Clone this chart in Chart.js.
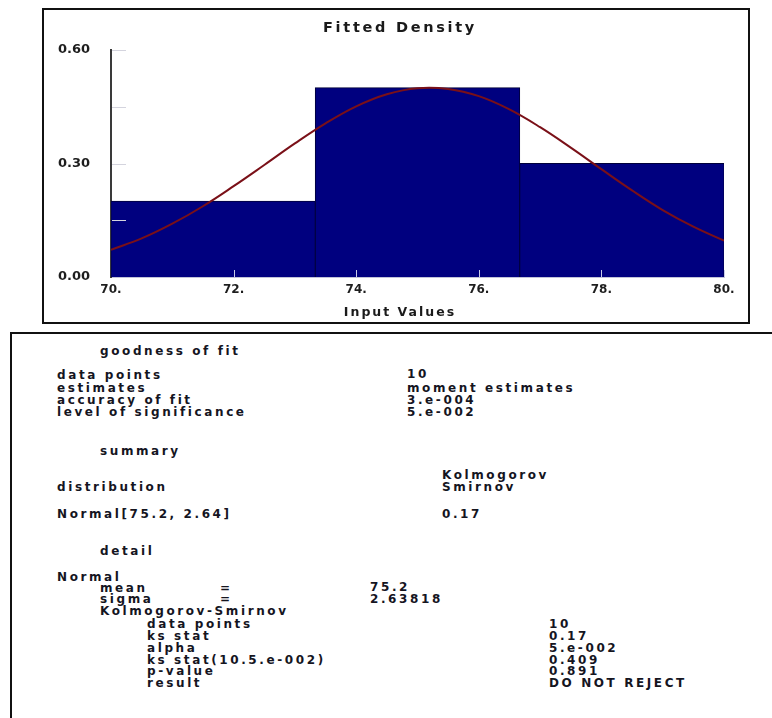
<!DOCTYPE html>
<html>
<head>
<meta charset="utf-8">
<script src="https://cdn.jsdelivr.net/npm/chart.js@4"></script>
<style>
  html, body { margin: 0; padding: 0; background: #fff; }
  body { width: 772px; height: 718px; position: relative; overflow: hidden; font-family: 'DejaVu Sans', sans-serif; }
  #chartBox { position: absolute; left: 42px; top: 8px; width: 708px; height: 316px; box-sizing: border-box; border: 2px solid #111; }
  #chartBox canvas { position: absolute; left: 0; top: 0; }
  .ctitle { position: absolute; left: 8px; right: 0; text-align: center; font-weight: bold; color: #1a1a1a; white-space: nowrap; }
  #panel { position: absolute; left: 10px; top: 332px; width: 770px; height: 400px; border-left: 2px solid #111; border-top: 2px solid #111; }
  .t { position: absolute; font-size: 12px; line-height: 12px; font-weight: bold; letter-spacing: 2.6px; color: #15151f; white-space: nowrap; }
</style>
</head>
<body>
<div id="chartBox">
  <canvas id="myChart" width="704" height="312"></canvas>
  <div class="ctitle" style="top:8px;font-size:14.5px;line-height:18px;letter-spacing:2.7px;">Fitted Density</div>
  <div class="ctitle" style="top:294px;font-size:12.5px;line-height:16px;letter-spacing:2px;">Input Values</div>
</div>

<!-- panel coordinates are page coords minus (12, 334) -->
<div id="panel">
  <div class="t" style="left:88px;top:11px">goodness of fit</div>

  <div class="t" style="left:45px;top:35px">data points</div>
  <div class="t" style="left:45px;top:48px">estimates</div>
  <div class="t" style="left:45px;top:60px">accuracy of fit</div>
  <div class="t" style="left:45px;top:72px">level of significance</div>
  <div class="t" style="left:395px;top:34px">10</div>
  <div class="t" style="left:395px;top:48px">moment estimates</div>
  <div class="t" style="left:395px;top:60px">3.e-004</div>
  <div class="t" style="left:395px;top:72px">5.e-002</div>

  <div class="t" style="left:88px;top:111px">summary</div>
  <div class="t" style="left:430px;top:135px">Kolmogorov</div>
  <div class="t" style="left:430px;top:147px">Smirnov</div>
  <div class="t" style="left:45px;top:147px">distribution</div>
  <div class="t" style="left:45px;top:174px">Normal[75.2, 2.64]</div>
  <div class="t" style="left:430px;top:174px">0.17</div>

  <div class="t" style="left:88px;top:211px">detail</div>
  <div class="t" style="left:45px;top:237px">Normal</div>
  <div class="t" style="left:88px;top:248px">mean</div>
  <div class="t" style="left:208px;top:248px">=</div>
  <div class="t" style="left:358px;top:247px">75.2</div>
  <div class="t" style="left:88px;top:259px">sigma</div>
  <div class="t" style="left:208px;top:259px">=</div>
  <div class="t" style="left:358px;top:259px">2.63818</div>
  <div class="t" style="left:88px;top:271px">Kolmogorov-Smirnov</div>
  <div class="t" style="left:135px;top:284px">data points</div>
  <div class="t" style="left:135px;top:296px">ks stat</div>
  <div class="t" style="left:135px;top:308px">alpha</div>
  <div class="t" style="left:135px;top:320px">ks stat(10.5.e-002)</div>
  <div class="t" style="left:135px;top:331px">p-value</div>
  <div class="t" style="left:135px;top:343px">result</div>
  <div class="t" style="left:537px;top:284px">10</div>
  <div class="t" style="left:537px;top:296px">0.17</div>
  <div class="t" style="left:537px;top:308px">5.e-002</div>
  <div class="t" style="left:537px;top:320px">0.409</div>
  <div class="t" style="left:537px;top:331px">0.891</div>
  <div class="t" style="left:537px;top:343px">DO NOT REJECT</div>
</div>

<script>
// histogram bins (edges) and their heights
const binEdges = [70, 73.33, 76.67, 80];
const binHeights = [0.2, 0.5, 0.3];

// fitted curve
const curveX = [70, 70.5, 71, 71.5, 72, 72.5, 73, 73.5, 74, 74.5, 75, 75.5, 76, 76.5, 77, 77.5, 78, 78.5, 79, 79.5, 80];
const curveY = [0.072, 0.102, 0.141, 0.187, 0.240, 0.296, 0.353, 0.406, 0.451, 0.483, 0.499, 0.497, 0.478, 0.443, 0.396, 0.342, 0.285, 0.229, 0.177, 0.133, 0.096];

// axis ticks
const xTickValues = [70, 72, 74, 76, 78, 80];
const xTickLabels = ['70.', '72.', '74.', '76.', '78.', '80.'];
const yTickValues = [0, 0.15, 0.3, 0.45, 0.6];
const yTickLabels = ['0.00', '', '0.30', '', '0.60'];

const barData = binHeights.map((h, i) => ({ x: (binEdges[i] + binEdges[i + 1]) / 2, y: h }));
const curveData = curveX.map((x, i) => ({ x: x, y: curveY[i] }));

// bars as wide as one bin, measured on the x scale
const binWidthPx = c => {
  const xs = c.chart.scales.x;
  if (!xs) return undefined;
  return xs.getPixelForValue(binEdges[1]) - xs.getPixelForValue(binEdges[0]);
};

// short tick marks drawn inside the plot area
const tickMarks = {
  id: 'tickMarks',
  afterDatasetsDraw(chart) {
    const { ctx, chartArea } = chart;
    const xs = chart.scales.x;
    const ys = chart.scales.y;
    ctx.save();
    ctx.lineWidth = 1;
    ctx.strokeStyle = '#d4d4de';
    ys.ticks.forEach(t => {
      if (t.value === 0) return;
      const py = Math.round(ys.getPixelForValue(t.value)) + 0.5;
      ctx.beginPath();
      ctx.moveTo(chartArea.left + 1, py);
      ctx.lineTo(chartArea.left + 15, py);
      ctx.stroke();
    });
    ctx.strokeStyle = '#c8cce8';
    xs.ticks.forEach(t => {
      if (t.value === xs.min) return;
      const px = Math.round(xs.getPixelForValue(t.value)) + 0.5;
      ctx.beginPath();
      ctx.moveTo(px, chartArea.bottom);
      ctx.lineTo(px, chartArea.bottom - 7);
      ctx.stroke();
    });
    ctx.restore();
  }
};

const ctx = document.getElementById('myChart').getContext('2d');

new Chart(ctx, {
  type: 'bar',
  data: {
    datasets: [
      {
        type: 'line',
        label: 'Normal fit',
        data: curveData,
        borderColor: '#7a1018',
        borderWidth: 2,
        pointRadius: 0,
        tension: 0.4,
        fill: false,
        order: 0,
      },
      {
        type: 'bar',
        label: 'Density',
        data: barData,
        backgroundColor: '#00007f',
        borderColor: '#00003a',
        borderWidth: 1,
        inflateAmount: 0.6,
        barThickness: binWidthPx,
        order: 1,
      },
    ],
  },
  options: {
    responsive: false,
    animation: false,
    devicePixelRatio: 1,
    layout: {
      padding: { top: 40, right: 24, bottom: 25, left: 0 },
    },
    plugins: {
      legend: { display: false },
      title: { display: false },
      tooltip: { enabled: false },
    },
    scales: {
      x: {
        type: 'linear',
        min: 70,
        max: 80,
        offset: false,
        grid: { display: false, drawTicks: false },
        border: { display: true, color: '#c0c2d8', width: 1 },
        afterBuildTicks: scale => {
          scale.ticks = xTickValues.map(v => ({ value: v }));
        },
        afterFit: scale => {
          scale.height = 20;
        },
        ticks: {
          autoSkip: false,
          maxRotation: 0,
          padding: 6,
          color: '#1e1e1e',
          font: { family: 'DejaVu Sans', size: 12, weight: 'bold' },
          callback: (value, index) => xTickLabels[index],
        },
      },
      y: {
        type: 'linear',
        min: 0,
        max: 0.6,
        grid: { display: false, drawTicks: false },
        border: { display: true, color: '#3a3a3a', width: 2 },
        afterBuildTicks: scale => {
          scale.ticks = yTickValues.map(v => ({ value: v }));
        },
        afterFit: scale => {
          scale.width = 67;
        },
        ticks: {
          autoSkip: false,
          padding: 21,
          color: '#1e1e1e',
          font: { family: 'DejaVu Sans', size: 13, weight: 'bold' },
          callback: (value, index) => yTickLabels[index],
        },
      },
    },
  },
  plugins: [tickMarks],
});
</script>
</body>
</html>
